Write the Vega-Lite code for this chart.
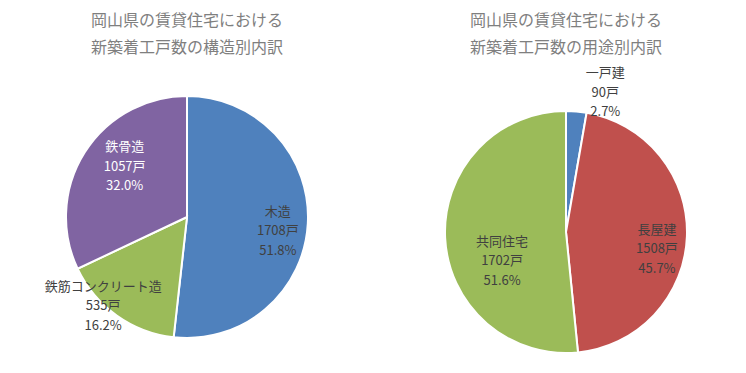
{
  "$schema": "https://vega.github.io/schema/vega-lite/v6.json",
  "padding": {"top": 13, "left": 0, "right": 0, "bottom": 0},
  "spacing": 12,
  "bounds": "flush",
  "background": "white",
  "resolve": {"scale": {"color": "independent", "theta": "independent"}},
  "config": {
    "view": {"stroke": null},
    "font": "Noto Sans CJK JP",
    "title": {"fontSize": 16, "fontWeight": "normal", "color": "#7f7f7f", "lineHeight": 27, "anchor": "middle", "frame": "group", "offset": 36, "font": "Noto Sans CJK JP"},
    "text": {"font": "Noto Sans CJK JP", "fontSize": 13, "lineHeight": 19.5, "lineBreak": "\n", "align": "center", "baseline": "middle"}
  },
  "hconcat": [
    {
      "width": 374,
      "height": 244,
      "title": {"text": ["岡山県の賃貸住宅における", "新築着工戸数の構造別内訳"]},
      "data": {"values": [
        {"type": "木造", "count": 1708, "idx": 1, "label": "木造\n1708戸\n51.8%"},
        {"type": "鉄筋コンクリート造", "count": 535, "idx": 2, "label": "鉄筋コンクリート造\n535戸\n16.2%"},
        {"type": "鉄骨造", "count": 1057, "idx": 3, "label": "鉄骨造\n1057戸\n32.0%"}
      ]},
      "encoding": {
        "theta": {"field": "count", "type": "quantitative", "stack": true},
        "order": {"field": "idx", "type": "quantitative"}
      },
      "layer": [
        {
          "mark": {"type": "arc", "outerRadius": 121, "stroke": "white", "strokeWidth": 2},
          "encoding": {
            "color": {"field": "type", "type": "nominal", "legend": null,
              "scale": {"domain": ["木造", "鉄筋コンクリート造", "鉄骨造"], "range": ["#4F81BD", "#9BBB59", "#8064A2"]}}
          }
        },
        {
          "mark": {"type": "text", "radius": 91, "dx": 0, "dy": -10.5, "color": "#404040"},
          "encoding": {"text": {"condition": {"test": "datum.type === '木造'", "field": "label", "type": "nominal"}, "value": ""}}
        },
        {
          "mark": {"type": "text", "radius": 75, "dx": 1, "dy": -29.5, "color": "#ffffff"},
          "encoding": {"text": {"condition": {"test": "datum.type === '鉄骨造'", "field": "label", "type": "nominal"}, "value": ""}}
        },
        {
          "mark": {"type": "text", "radius": 122, "dx": -13, "dy": -29.5, "color": "#404040"},
          "encoding": {"text": {"condition": {"test": "datum.type === '鉄筋コンクリート造'", "field": "label", "type": "nominal"}, "value": ""}}
        }
      ]
    },
    {
      "width": 360,
      "height": 274,
      "title": {"text": ["岡山県の賃貸住宅における", "新築着工戸数の用途別内訳"], "offset": 11},
      "data": {"values": [
        {"type": "一戸建", "count": 90, "idx": 1, "label": "一戸建\n90戸\n2.7%"},
        {"type": "長屋建", "count": 1508, "idx": 2, "label": "長屋建\n1508戸\n45.7%"},
        {"type": "共同住宅", "count": 1702, "idx": 3, "label": "共同住宅\n1702戸\n51.6%"}
      ]},
      "encoding": {
        "theta": {"field": "count", "type": "quantitative", "stack": true},
        "order": {"field": "idx", "type": "quantitative"}
      },
      "layer": [
        {
          "mark": {"type": "arc", "outerRadius": 121, "stroke": "white", "strokeWidth": 2},
          "encoding": {
            "color": {"field": "type", "type": "nominal", "legend": null,
              "scale": {"domain": ["一戸建", "長屋建", "共同住宅"], "range": ["#4F81BD", "#C0504D", "#9BBB59"]}}
          }
        },
        {
          "mark": {"type": "text", "radius": 144, "dx": 27, "dy": -15.5, "color": "#404040"},
          "encoding": {"text": {"condition": {"test": "datum.type === '一戸建'", "field": "label", "type": "nominal"}, "value": ""}}
        },
        {
          "mark": {"type": "text", "radius": 91, "dx": 0, "dy": -5.5, "color": "#404040"},
          "encoding": {"text": {"condition": {"test": "datum.type === '長屋建'", "field": "label", "type": "nominal"}, "value": ""}}
        },
        {
          "mark": {"type": "text", "radius": 64, "dx": 0, "dy": 6.5, "color": "#404040"},
          "encoding": {"text": {"condition": {"test": "datum.type === '共同住宅'", "field": "label", "type": "nominal"}, "value": ""}}
        }
      ]
    }
  ]
}
